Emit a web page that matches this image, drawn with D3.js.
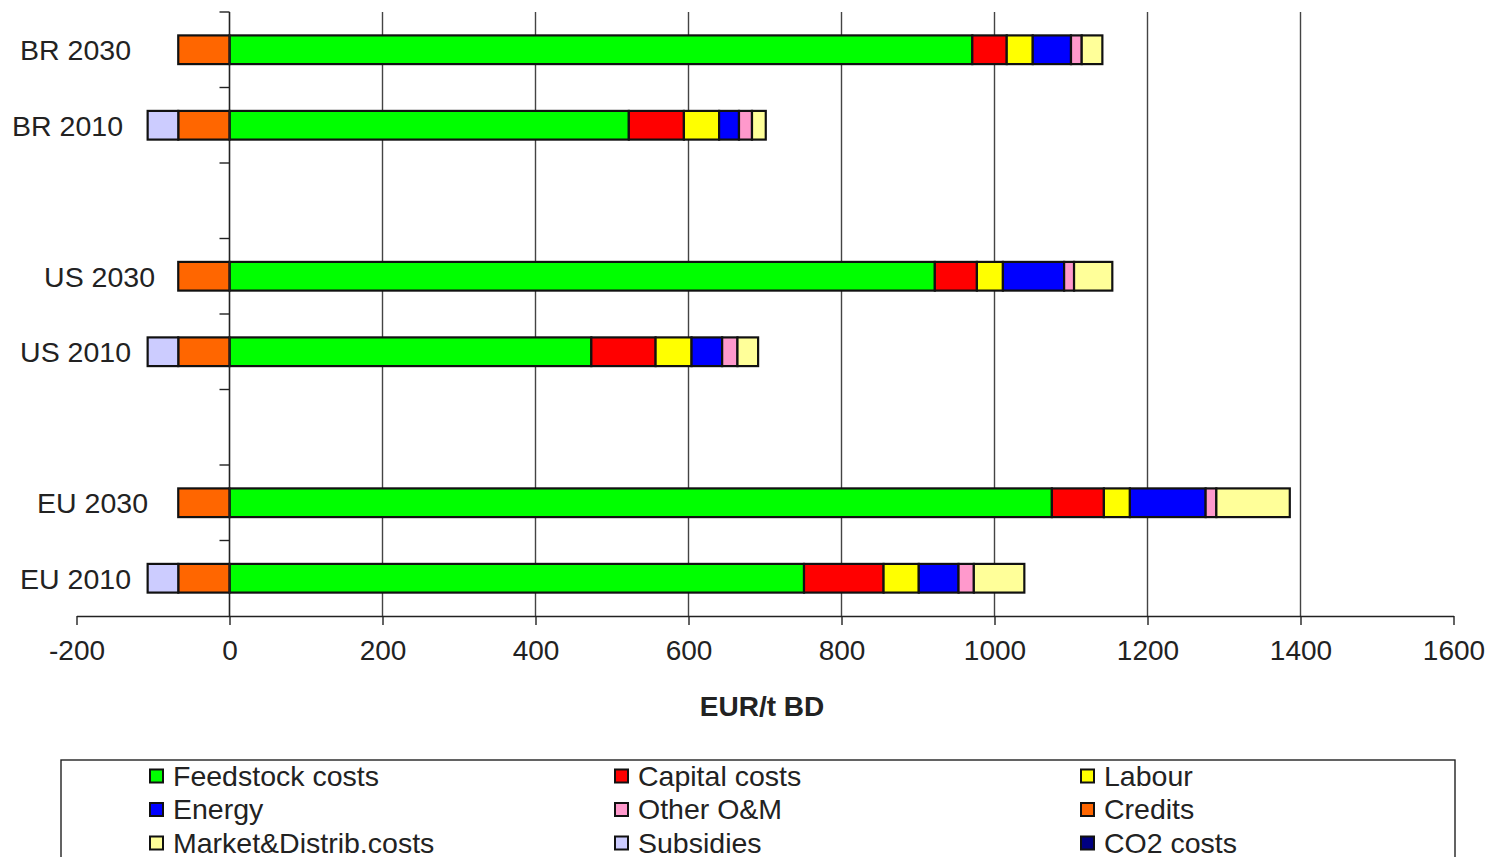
<!DOCTYPE html>
<html>
<head>
<meta charset="utf-8">
<script src="https://cdn.jsdelivr.net/npm/d3@7"></script>
<style>
  html, body { margin: 0; padding: 0; background: #fff; }
  svg { display: block; font-family: "Liberation Sans", Arial, sans-serif; }
</style>
</head>
<body>
<svg id="chart" width="1493" height="857"></svg>
<script>
// ---- data ----
const categories = ["BR 2030", "BR 2010", "", "US 2030", "US 2010", "", "EU 2030", "EU 2010"];
const feedstock  = [971, 522, null, 922, 473, null, 1075, 751];
const capital    = [45, 72, null, 55, 84, null, 68, 104];
const labour     = [34, 46, null, 34, 47, null, 34, 46];
const energy     = [50, 26, null, 80, 40, null, 99, 52];
const otherOM    = [14, 17, null, 13, 20, null, 14, 20];
const market     = [27, 18, null, 50, 27, null, 96, 66];
const credits    = [-67, -67, null, -67, -67, null, -67, -67];
const subsidies  = [0, -40, null, 0, -40, null, 0, -40];
const co2        = [0, 0, null, 0, 0, null, 0, 0];
const xTicks     = [-200, 0, 200, 400, 600, 800, 1000, 1200, 1400, 1600];
const legendNames = ["Feedstock costs", "Capital costs", "Labour", "Energy", "Other O&M", "Credits",
                     "Market&Distrib.costs", "Subsidies", "CO2 costs"];
const axisTitle = "EUR/t BD";

// label horizontal nudges (style only, px)
const labelNudge = [0, -8, 0, 24, 0, 0, 17, 0];

// series in stacking order (positive then negative)
const seriesDefs = [
  { name: "Feedstock costs",      values: feedstock, color: "#00FF00" },
  { name: "Capital costs",        values: capital,   color: "#FF0000" },
  { name: "Labour",               values: labour,    color: "#FFFF00" },
  { name: "Energy",               values: energy,    color: "#0000FF" },
  { name: "Other O&M",            values: otherOM,   color: "#FF99CC" },
  { name: "Market&Distrib.costs", values: market,    color: "#FFFF99" },
  { name: "Credits",              values: credits,   color: "#FF6600" },
  { name: "Subsidies",            values: subsidies, color: "#CCCCFF" },
  { name: "CO2 costs",            values: co2,       color: "#000080" }
];
const colorOf = Object.fromEntries(seriesDefs.map(s => [s.name, s.color]));

// ---- layout ----
const svg = d3.select("#chart");
const plot = { left: 76.5, right: 1453.5, top: 12, bottom: 616 };

const x = d3.scaleLinear().domain([-200, 1600]).range([plot.left, plot.right]);
const y = d3.scaleBand().domain(d3.range(categories.length))
  .range([plot.top, plot.bottom]).paddingInner(0.62).paddingOuter(0.31);

// gridlines
svg.append("g").selectAll("line")
  .data(xTicks.filter(t => t > 0 && t < 1600))
  .join("line")
  .attr("x1", d => x(d)).attr("x2", d => x(d))
  .attr("y1", plot.top).attr("y2", plot.bottom)
  .attr("stroke", "#444").attr("stroke-width", 1.4);

// x axis
const xAxis = d3.axisBottom(x).tickValues(xTicks).tickSize(9).tickSizeOuter(0).tickPadding(15)
  .tickFormat(d3.format("d"));
const gx = svg.append("g").attr("transform", `translate(0,${plot.bottom})`).call(xAxis);
gx.select(".domain").attr("stroke", "#222").attr("stroke-width", 1.6);
gx.selectAll(".tick line").attr("stroke", "#222").attr("stroke-width", 1.4);
gx.selectAll(".tick text").attr("font-size", 28).attr("fill", "#222")
  .attr("font-family", "Liberation Sans, Arial, sans-serif")
  .text(d => d < 0 ? "-" + Math.abs(d) : d);

// axis title
svg.append("text").attr("x", 762).attr("y", 716).attr("text-anchor", "middle")
  .attr("font-size", 28).attr("font-weight", "bold").attr("fill", "#222").text(axisTitle);

// stacked bars
const rows = categories.map((c, i) => ({ cat: c, i }));
rows.forEach(r => {
  if (feedstock[r.i] === null) return;
  let pos = 0, neg = 0;
  seriesDefs.forEach(s => {
    const v = s.values[r.i];
    if (!v) return;
    let x0, x1;
    if (v > 0) { x0 = pos; x1 = pos + v; pos = x1; }
    else { x1 = neg; x0 = neg + v; neg = x0; }
    svg.append("rect")
      .attr("x", x(x0)).attr("width", x(x1) - x(x0))
      .attr("y", y(r.i)).attr("height", y.bandwidth())
      .attr("fill", s.color).attr("stroke", "#111").attr("stroke-width", 2.2);
  });
});

// zero axis (vertical category axis)
svg.append("line").attr("x1", x(0)).attr("x2", x(0))
  .attr("y1", plot.top).attr("y2", plot.bottom)
  .attr("stroke", "#222").attr("stroke-width", 1.6);
// category boundary ticks
const step = y.step();
svg.append("g").selectAll("line")
  .data(d3.range(categories.length))
  .join("line")
  .attr("x1", x(0) - 10).attr("x2", x(0))
  .attr("y1", d => plot.top + d * step).attr("y2", d => plot.top + d * step)
  .attr("stroke", "#222").attr("stroke-width", 1.4);

// category labels
svg.append("g").selectAll("text")
  .data(rows.filter(r => r.cat !== ""))
  .join("text")
  .attr("x", r => 131 + labelNudge[r.i]).attr("y", r => y(r.i) + y.bandwidth() / 2)
  .attr("dy", "0.36em").attr("text-anchor", "end")
  .attr("font-size", 28.5).attr("fill", "#222").text(r => r.cat);

// legend
const lg = svg.append("g");
lg.append("rect").attr("x", 61).attr("y", 760).attr("width", 1394).attr("height", 130)
  .attr("fill", "#fff").attr("stroke", "#222").attr("stroke-width", 1.4);
const colX = [150, 615, 1081];
const rowY = [776, 809.5, 843];
legendNames.forEach((n, k) => {
  const cx = colX[k % 3], cy = rowY[Math.floor(k / 3)];
  lg.append("rect").attr("x", cx).attr("y", cy - 6.5).attr("width", 13).attr("height", 13)
    .attr("fill", colorOf[n]).attr("stroke", "#111").attr("stroke-width", 2);
  lg.append("text").attr("x", cx + 23).attr("y", cy).attr("dy", "0.35em")
    .attr("font-size", 28.5).attr("textLength", null).attr("fill", "#222").text(n);
});
</script>
</body>
</html>
